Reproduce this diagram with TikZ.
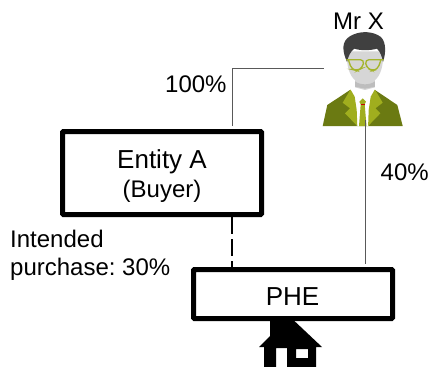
\documentclass[tikz,border=0pt]{standalone}
\usepackage{fontspec}
\setmainfont{Liberation Sans}
\frenchspacing
\definecolor{linegray}{HTML}{595959}
\definecolor{hair}{HTML}{404040}
\definecolor{face}{HTML}{D6D6D6}
\definecolor{facedark}{HTML}{BDBDBD}
\definecolor{olive}{HTML}{6B7A12}
\definecolor{lapel}{HTML}{A0AE1E}
\definecolor{glass}{HTML}{A4B42C}
\tikzset{
  box/.style={draw=black,line width=5pt,fill=white,rounded corners=1pt,anchor=north west,inner sep=0pt},
  lbl/.style={inner sep=0pt,font=\fontsize{24}{27}\selectfont,anchor=base west},
  big/.style={font=\fontsize{26}{27}\selectfont},
  conn/.style={draw=linegray,line width=1pt},
  dashconn/.style={draw=black,line width=2pt,dash pattern=on 17pt off 5pt},
}
\begin{document}
\begin{tikzpicture}[x=1pt,y=-1pt]
\useasboundingbox (0,0) rectangle (429,367);
% house
\begin{scope}[even odd rule]
\fill[black] (287,314) -- (322,347) -- (316,347) -- (316,367) -- (287,367) -- (287,348) -- (276,348) -- (276,367) -- (264,367) -- (264,347) -- (259,347) -- (270,336) -- (270,321) -- (281,321) -- cycle
 (296,349) rectangle (308,358);
\end{scope}
% boxes
\node[box,minimum width=199pt,minimum height=83pt] (entity) at (60,129) {};
\node[box,minimum width=199pt,minimum height=49pt] (phe) at (191,267) {};
% person: body
\fill[olive] (322.7,126) -- (327.3,105) -- (350,90) -- (375,90) -- (397.3,105) -- (402.7,126) -- cycle;
\fill[white] (350,89) -- (375,89) -- (368.5,126) -- (357,126) -- cycle;
\fill[lapel] (350.5,89.5) -- (342.7,102.7) -- (350,108.3) -- (345,113.3) -- (357.3,126) -- (356.7,110) -- (354.7,96.7) -- cycle;
\fill[lapel] (374.9,89.5) -- (382.7,102.7) -- (375.4,108.3) -- (380.4,113.3) -- (368.1,126) -- (368.7,110) -- (370.7,96.7) -- cycle;
\fill[lapel] (359.3,101.7) -- (362.7,98.3) -- (366,101.7) -- (364.7,104.3) -- (366.5,126) -- (359,126) -- (360.7,104.3) -- cycle;
\draw[red!80!black,line width=0.8pt] (360.7,104.3) -- (364.7,104.3);
% person: head
\begin{scope}[shift={(335,28)},x=0.3333pt,y=-0.3333pt]
\fill[face] (60,140) -- (60,178) -- (90,186) -- (120,178) -- (120,140) -- cycle;
\fill[facedark] (60,160) .. controls (75,172) and (105,172) .. (120,160) -- (120,176) -- (90,182) -- (60,176) -- cycle;
\fill[face] (35,70) .. controls (35,115) and (42,142) .. (62,158) .. controls (78,170) and (102,170) .. (118,158) .. controls (138,142) and (145,115) .. (145,70) -- cycle;
\fill[hair] (36,102) .. controls (22,70) and (18,40) .. (46,24) .. controls (70,10) and (105,8) .. (130,22) .. controls (153,32) and (155,70) .. (144,102) .. controls (141,85) and (136,72) .. (126,62) .. controls (105,68) and (75,68) .. (58,62) .. controls (46,70) and (40,85) .. (36,102) -- cycle;
\draw[glass,line width=1.3pt,rounded corners=4pt] (34,95) -- (88,95) -- (82,120) -- (66,128) -- (50,124) -- (40,95) (146,95) -- (90,95) -- (95,120) -- (112,128) -- (128,124) -- (138,95);
\end{scope}
% connector ends
\coordinate (ownA) at (232,126);
\coordinate (corner) at (232,68);
\coordinate (xleft) at (324,68);
\coordinate (xtie) at (365,120);
\coordinate (pheR) at (365,264);
\coordinate (entD) at (232,217);
\coordinate (pheL) at (232,268);
\draw[conn] (ownA) -- (corner) -- (xleft);
\draw[conn] (xtie) -- (pheR);
\draw[dashconn] (entD) -- (pheL);
% labels
\node[lbl] (lx) at (333,29) {Mr X};
\node[lbl] (l100) at (165,92.5) {100\%};
\node[lbl] (l40) at (380.5,180.5) {40\%};
\node[lbl,big,anchor=base] (ea) at (162,168.5) {Entity A};
\node[lbl,anchor=base] (eb) at (162,197.5) {(Buyer)};
\node[lbl] (ip1) at (10,247.5) {Intended};
\node[lbl] (ip2) at (10,275.5) {purchase: 30\%};
\node[lbl,big,anchor=base] (pt) at (292.5,305) {PHE};
\end{tikzpicture}
\end{document}
